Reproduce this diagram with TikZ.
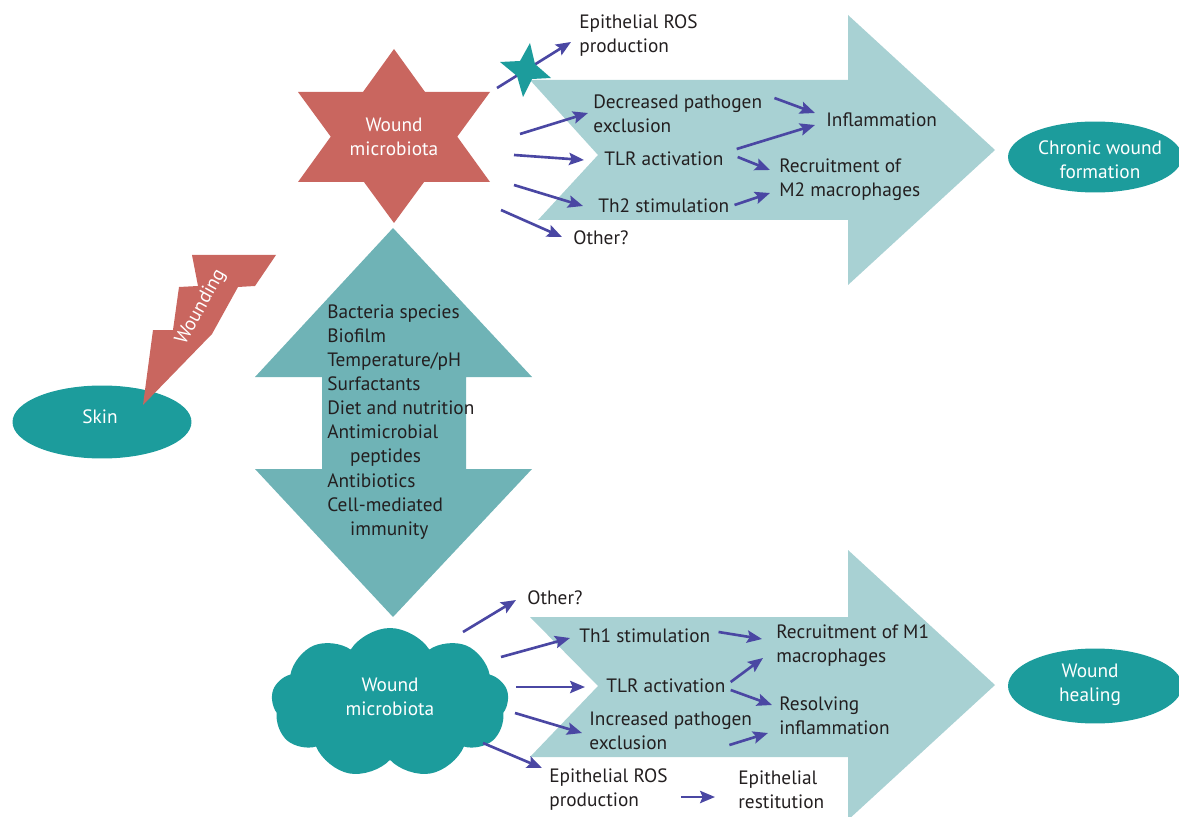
\documentclass[tikz,border=0pt]{standalone}
\usepackage{fontspec}
\setmainfont{PT Sans}
\usetikzlibrary{arrows.meta,calc,positioning,shapes.geometric,shapes.symbols}

\definecolor{arrowpale}{HTML}{A8D1D3}
\definecolor{arrowmid}{HTML}{6FB3B6}
\definecolor{tealdark}{HTML}{1C9C9C}
\definecolor{woundred}{HTML}{C9665F}
\definecolor{flowblue}{HTML}{4A47A3}
\definecolor{inktext}{HTML}{231F20}

\begin{document}
\begin{tikzpicture}[x=0.02cm, y=-0.02cm,
  txt/.style={anchor=west, align=left, inner sep=0pt, text=inktext, font=\fontsize{11}{13.7}\selectfont},
  wtxt/.style={align=center, inner sep=0pt, text=white, font=\fontsize{11}{13.6}\selectfont},
  blob/.style={ellipse, fill=tealdark, inner sep=0pt, minimum width=3.48cm, minimum height=1.44cm},
  flow/.style={draw=flowblue, line width=1.5pt, -{Stealth[length=8.5pt,width=7pt,inset=1.5pt]}}]
\useasboundingbox (0,0) rectangle (1179,817);

%% big arrows
\fill[arrowpale] (530,80) -- (848,80) -- (848,15) -- (995,150) -- (848,285) -- (848,220) -- (538,220) -- (598,155) -- cycle;
\fill[arrowpale] (530,617) -- (848,617) -- (848,550) -- (995,685) -- (848,820) -- (848,757) -- (530,757) -- (598,686) -- cycle;
\fill[arrowmid] (393,228) -- (532,377) -- (466,377) -- (466,469) -- (532,469) -- (393,617) -- (255,469) -- (322,469) -- (322,377) -- (255,377) -- cycle;

%% skin and wounding
\node[blob, minimum width=3.58cm, minimum height=1.46cm] (skin) at (102,422) {};
\node[wtxt] (skinT) at (100,417) {Skin};
\fill[woundred] (192,255) -- (276,255) -- (255,286) -- (238,287) -- (212,334) -- (143,405) -- (153,330) -- (173,330) -- (179,287) -- (198,286) -- cycle;
\node[wtxt, rotate=61] (woundT) at (201,307) {Wounding};

%% wound microbiota (star)
\fill[woundred] (394,49) -- (490,182) -- (298,182) -- cycle;
\fill[woundred] (298,92) -- (490,92) -- (394,223) -- cycle;
\node[wtxt] (starT) at (394,137) {Wound\\microbiota};

%% wound microbiota (cloud)
\node[cloud, cloud puffs=9, cloud puff arc=115, aspect=1.6, fill=tealdark, inner sep=0pt,
      minimum width=4.75cm, minimum height=3.0cm] (cloud) at (390,703) {};
\node[wtxt] (cloudT) at (390,697) {Wound\\microbiota};

%% outcomes
\node[blob, minimum height=1.42cm] (chronic) at (1095,157) {};
\node[wtxt] (chronicT) at (1100,160) {Chronic wound\\formation};
\node[blob, minimum height=1.5cm] (heal) at (1095,686) {};
\node[wtxt] (healT) at (1090,685) {Wound\\healing};

%% modulating factors
\node[txt] (factors) at (327,422) {Bacteria species\\Biofilm\\Temperature/pH\\Surfactants\\Diet and nutrition\\Antimicrobial\\\hspace*{13pt}peptides\\Antibiotics\\Cell-mediated\\\hspace*{13pt}immunity};

%% upper pathway
\node[txt] (rosT) at (579,36) {Epithelial ROS\\production};
\node[txt] (dpT) at (593,114) {Decreased pathogen\\exclusion};
\node[txt] (tlrT) at (604,159) {TLR activation};
\node[txt] (th2T) at (598,206) {Th2 stimulation};
\node[txt] (othT) at (573,238) {Other?};
\node[txt] (inflT) at (826,120) {Inflammation};
\node[txt] (rm2T) at (779,180) {Recruitment of\\M2 macrophages};

\coordinate (s1) at (497,88);
\coordinate (s2) at (520,134);
\coordinate (s3) at (514,155);
\coordinate (s4) at (514,185);
\coordinate (s5) at (501,210);

\draw[flow] (s1) -- ($(rosT.west)+(-8,6)$);
\draw[flow] (s2) -- ($(dpT.west)+(-5,-1)$);
\draw[flow] (s3) -- ($(tlrT.west)+(-20,1)$);
\draw[flow] (s4) -- ($(th2T.west)+(-15,0)$);
\draw[flow] (s5) -- ($(othT.west)+(-11,-1)$);
\draw[flow] ($(dpT.east)+(12,-16)$) -- ($(inflT.west)+(-11,-7)$);
\draw[flow] ($(tlrT.east)+(13,-10)$) -- ($(inflT.west)+(-11,5)$);
\draw[flow] ($(tlrT.east)+(14,-2)$) -- ($(rm2T.west)+(-9,-10)$);
\draw[flow] ($(th2T.east)+(5,-1)$) -- ($(rm2T.west)+(-9,13)$);

% blocked ROS
\fill[tealdark] (530,43) -- (535,64) -- (551,78) -- (532,79) -- (523,97) -- (517,76) -- (500,62) -- (520,61) -- cycle;

%% lower pathway
\node[txt] (oth2T) at (527,598) {Other?};
\node[txt] (th1T) at (579,636) {Th1 stimulation};
\node[txt] (tlr2T) at (606,686) {TLR activation};
\node[txt] (ipT) at (589,731) {Increased pathogen\\exclusion};
\node[txt] (ros2T) at (549,790) {Epithelial ROS\\production};
\node[txt] (restT) at (738,790) {Epithelial\\restitution};
\node[txt] (rm1T) at (776,646) {Recruitment of M1\\macrophages};
\node[txt] (resT) at (779,716) {Resolving\\inflammation};

\coordinate (c1) at (463,632);
\coordinate (c2) at (501,657);
\coordinate (c3) at (516,687);
\coordinate (c4) at (515,713);
\coordinate (c5) at (483,743);

\draw[flow] (c1) -- ($(oth2T.west)+(-11,2)$);
\draw[flow] (c2) -- ($(th1T.west)+(-9,2)$);
\draw[flow] (c3) -- ($(tlr2T.west)+(-21,1)$);
\draw[flow] (c4) -- ($(ipT.west)+(-7,2)$);
\draw[flow] (c5) -- ($(ros2T.west)+(-7,-22)$);
\draw[flow] ($(ros2T.east)+(13,7)$) -- ($(restT.west)+(-23,7)$);
\draw[flow] ($(th1T.east)+(8,-4)$) -- ($(rm1T.west)+(-14,-7)$);
\draw[flow] ($(tlr2T.east)+(5,-4)$) -- ($(rm1T.west)+(-13,12)$);
\draw[flow] ($(tlr2T.east)+(5,4)$) -- ($(resT.west)+(-7,-11)$);
\draw[flow] ($(ipT.east)+(-23,14)$) -- ($(resT.west)+(-11,17)$);

\end{tikzpicture}
\end{document}
